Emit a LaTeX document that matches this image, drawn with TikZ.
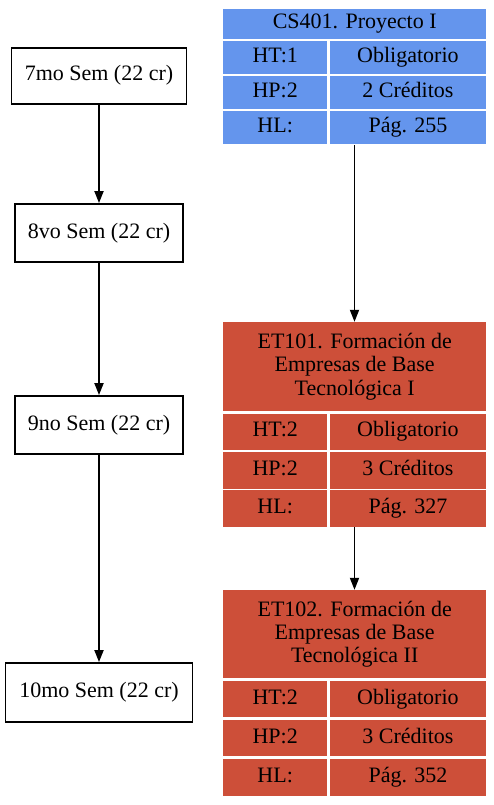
\documentclass[tikz,border=0pt]{standalone}
\usepackage{fontspec}
\setmainfont{Liberation Serif}
\usetikzlibrary{arrows.meta}
\definecolor{csblue}{HTML}{6495ED}
\definecolor{etred}{HTML}{CD4F39}
\begin{document}
\begin{tikzpicture}[x=1pt,y=-1pt,
  every node/.style={font=\fontsize{22}{23.4}\selectfont},
  sem/.style={draw=black, line width=1.8pt, inner sep=0pt, fill=white, text height=15pt, text depth=5pt},
  cell/.style={inner sep=0pt, anchor=north west, align=center},
  one/.style={text height=15pt, text depth=5pt},
  invis/.style={inner sep=0pt, draw=none},
  conn/.style={line width=1.8pt, -{Triangle[length=12pt,width=9pt]}}
]
\useasboundingbox[fill=white] (0,0) rectangle (494,805);

% semester boxes
\node[sem, minimum width=175pt, minimum height=56pt] (s7) at (99,76) {7mo Sem (22 cr)};
\node[sem, minimum width=168pt, minimum height=58pt] (s8) at (99,233) {8vo Sem (22 cr)};
\node[sem, minimum width=168pt, minimum height=58pt] (s9) at (99,425) {9no Sem (22 cr)};
\node[sem, minimum width=187pt, minimum height=59pt] (s10) at (99,692.5) {10mo Sem (22 cr)};

\draw[conn] (s7.south) -- (s8.north);
\draw[conn] (s8.south) -- (s9.north);
\draw[conn] (s9.south) -- (s10.north);

% CS401
\node[cell, one, fill=csblue, minimum width=263pt, minimum height=29.5pt] (cst) at (223,9) {CS401. Proyecto I};
\node[cell, one, fill=csblue, minimum width=104pt, minimum height=32.5pt] (csa1) at (223,41) {HT:1};
\node[cell, one, fill=csblue, minimum width=156.5pt, minimum height=32.5pt] (csb1) at (329.5,41) {Obligatorio};
\node[cell, one, fill=csblue, minimum width=104pt, minimum height=32.5pt] (csa2) at (223,76) {HP:2};
\node[cell, one, fill=csblue, minimum width=156.5pt, minimum height=32.5pt] (csb2) at (329.5,76) {2 Créditos};
\node[cell, one, fill=csblue, minimum width=104pt, minimum height=32.5pt] (csa3) at (223,111) {HL:};
\node[cell, one, fill=csblue, minimum width=156.5pt, minimum height=32.5pt] (csb3) at (329.5,111) {Pág. 255};
\node[invis, minimum width=263pt, minimum height=136pt] (cs401) at (354.5,77) {};

% ET101
\node[cell, fill=etred, minimum width=263pt, minimum height=89pt] (e1t) at (223,322) {ET101. Formación de\\Empresas de Base\\Tecnológica I};
\node[cell, one, fill=etred, minimum width=104pt, minimum height=36.5pt] (e1a1) at (223,413.5) {HT:2};
\node[cell, one, fill=etred, minimum width=156.5pt, minimum height=36.5pt] (e1b1) at (329.5,413.5) {Obligatorio};
\node[cell, one, fill=etred, minimum width=104pt, minimum height=36.5pt] (e1a2) at (223,451.8) {HP:2};
\node[cell, one, fill=etred, minimum width=156.5pt, minimum height=36.5pt] (e1b2) at (329.5,451.8) {3 Créditos};
\node[cell, one, fill=etred, minimum width=104pt, minimum height=37pt] (e1a3) at (223,490) {HL:};
\node[cell, one, fill=etred, minimum width=156.5pt, minimum height=37pt] (e1b3) at (329.5,490) {Pág. 327};
\node[invis, minimum width=263pt, minimum height=205pt] (et101) at (354.5,424.5) {};

% ET102
\node[cell, fill=etred, minimum width=263pt, minimum height=88pt] (e2t) at (223,590) {ET102. Formación de\\Empresas de Base\\Tecnológica II};
\node[cell, one, fill=etred, minimum width=104pt, minimum height=36pt] (e2a1) at (223,681) {HT:2};
\node[cell, one, fill=etred, minimum width=156.5pt, minimum height=36pt] (e2b1) at (329.5,681) {Obligatorio};
\node[cell, one, fill=etred, minimum width=104pt, minimum height=36pt] (e2a2) at (223,720) {HP:2};
\node[cell, one, fill=etred, minimum width=156.5pt, minimum height=36pt] (e2b2) at (329.5,720) {3 Créditos};
\node[cell, one, fill=etred, minimum width=104pt, minimum height=37.5pt] (e2a3) at (223,758.5) {HL:};
\node[cell, one, fill=etred, minimum width=156.5pt, minimum height=37.5pt] (e2b3) at (329.5,758.5) {Pág. 352};
\node[invis, minimum width=263pt, minimum height=206pt] (et102) at (354.5,693) {};

\draw[conn] (cs401.south) -- (et101.north);
\draw[conn] (et101.south) -- (et102.north);
\end{tikzpicture}
\end{document}
